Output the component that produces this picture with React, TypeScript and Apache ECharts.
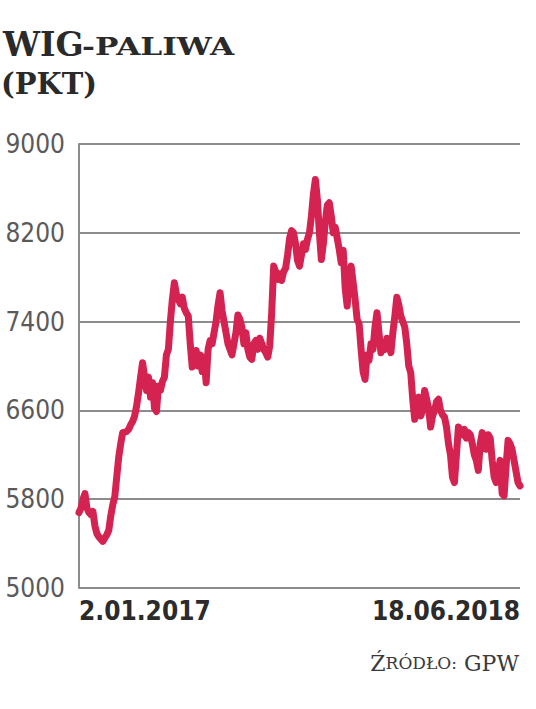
import React, { useEffect, useRef } from "react";
import * as echarts from "echarts";

// WIG-PALIWA index, points (2.01.2017 – 18.06.2018)
const values: number[] = [
  5680, 5720, 5800, 5850, 5720, 5680, 5660, 5690, 5560, 5490,
  5460, 5440, 5420, 5450, 5480, 5520, 5650, 5750, 5820, 6000,
  6180, 6300, 6400, 6405, 6410, 6430, 6470, 6500, 6550, 6640,
  6760, 6900, 7030, 6900, 6780, 6900, 6720, 6850, 6620, 6590,
  6820, 6780, 6860, 6900, 7100, 7150, 7400, 7600, 7750, 7650,
  7600, 7560, 7620, 7520, 7480, 7450, 7200, 6990, 7050, 7140,
  7000, 7100, 6950, 7080, 6850, 7150, 7230, 7200, 7300, 7400,
  7550, 7660, 7500, 7400, 7300, 7200, 7150, 7100, 7200, 7300,
  7460, 7420, 7350, 7200, 7300, 7150, 7080, 7060, 7200, 7230,
  7150, 7250, 7200, 7150, 7120, 7080, 7180, 7480, 7900, 7850,
  7780, 7830, 7770, 7850, 7880, 8000, 8150, 8220, 8200, 8100,
  7950, 7900, 8000, 8100, 8050, 8140, 8200, 8350, 8550, 8680,
  8500, 8200, 7960, 8100, 8300, 8450, 8470, 8350, 8200, 8250,
  8150, 8050, 7930, 8040, 7700, 7540, 7800, 7900, 7750, 7600,
  7420, 7380, 7150, 6950, 6880, 7100, 7050, 7200, 7150, 7350,
  7480, 7300, 7120, 7200, 7150, 7250, 7200, 7120, 7300, 7450,
  7620, 7550, 7450, 7400, 7350, 7200, 7000, 6940, 6700, 6520,
  6650, 6720, 6550, 6600, 6780, 6700, 6620, 6450, 6550, 6600,
  6680, 6700, 6600, 6560, 6540, 6450, 6300, 6200, 6000, 5950,
  6200, 6450, 6420, 6380, 6430, 6350, 6400, 6380, 6300, 6200,
  6150, 6060, 6300, 6400, 6350, 6250, 6380, 6350, 6150, 6000,
  5950, 6050, 6150, 5850, 5830, 6100, 6330, 6300, 6250, 6150,
  6050, 5950, 5920,
];

const xTickLabels: string[] = ["2.01.2017", "18.06.2018"];
const yMin = 5000;
const yMax = 9000;
const yStep = 800;

const titleMain = "WIG";
const titleSub = "-PALIWA";
const unitText = "(PKT)";

export default function App() {
  const ref = useRef<HTMLDivElement>(null);

  useEffect(() => {
    if (!ref.current) return;
    const chart = echarts.init(ref.current, null, { renderer: "svg" });
    const cats = values.map((_, i) => String(i));
    const last = values.length - 1;
    const gray = "#8c8c8c";
    const cond = "'DejaVu Sans Condensed', 'DejaVu Sans', sans-serif";

    chart.setOption({
      animation: false,
      backgroundColor: "#ffffff",
      grid: { left: 79, top: 144, width: 441, height: 444, containLabel: false },
      xAxis: {
        type: "category",
        data: cats,
        boundaryGap: false,
        axisLine: { show: false },
        axisTick: { show: false },
        splitLine: { show: false },
        axisLabel: {
          interval: (i: number) => i === 0 || i === last,
          formatter: (_v: string, i: number) => (i === 0 ? xTickLabels[0] : xTickLabels[1]),
          alignMinLabel: "left",
          alignMaxLabel: "right",
          margin: 10,
          color: "#2b2b2b",
          fontFamily: cond,
          fontWeight: "bold",
          fontSize: 26,
        },
      },
      yAxis: {
        type: "value",
        min: yMin,
        max: yMax,
        interval: yStep,
        axisLine: { show: true, lineStyle: { color: gray, width: 2 } },
        axisTick: { show: false },
        splitLine: { show: true, lineStyle: { color: gray, width: 2 } },
        axisLabel: {
          margin: 14,
          color: "#5a5a5a",
          fontFamily: cond,
          fontSize: 26,
          formatter: (v: number) => String(v),
        },
      },
      series: [
        {
          type: "line",
          data: values,
          showSymbol: false,
          symbol: "none",
          lineStyle: { color: "#d42350", width: 7, join: "round", cap: "round" },
        },
      ],
      graphic: [
        {
          type: "text",
          left: 3,
          top: 28,
          style: {
            text: titleMain,
            fill: "#2a2a2a",
            font: "bold 33px 'DejaVu Serif', serif",
          },
        },
        {
          type: "text",
          x: 82,
          y: 35,
          scaleX: 1.3,
          style: {
            text: titleSub,
            fill: "#2a2a2a",
            font: "bold 24px 'DejaVu Serif', serif",
          },
        },
        {
          type: "text",
          left: 1,
          top: 69,
          style: {
            text: unitText,
            fill: "#2a2a2a",
            font: "bold 29px 'DejaVu Serif', serif",
          },
        },
        {
          type: "text",
          right: 17,
          top: 652,
          style: {
            text: "{a|Ź}{b|RÓDŁO:}{a| GPW}",
            fill: "#3a3a3a",
            rich: {
              a: { fontFamily: "'DejaVu Serif', serif", fontSize: 22, fill: "#3a3a3a" },
              b: { fontFamily: "'DejaVu Serif', serif", fontSize: 17, fill: "#3a3a3a" },
            },
          },
        },
      ],
    });
    return () => chart.dispose();
  }, []);

  return (
    <div
      ref={ref}
      style={{ position: "fixed", left: 0, top: 0, width: 536, height: 709, background: "#fff" }}
    />
  );
}
